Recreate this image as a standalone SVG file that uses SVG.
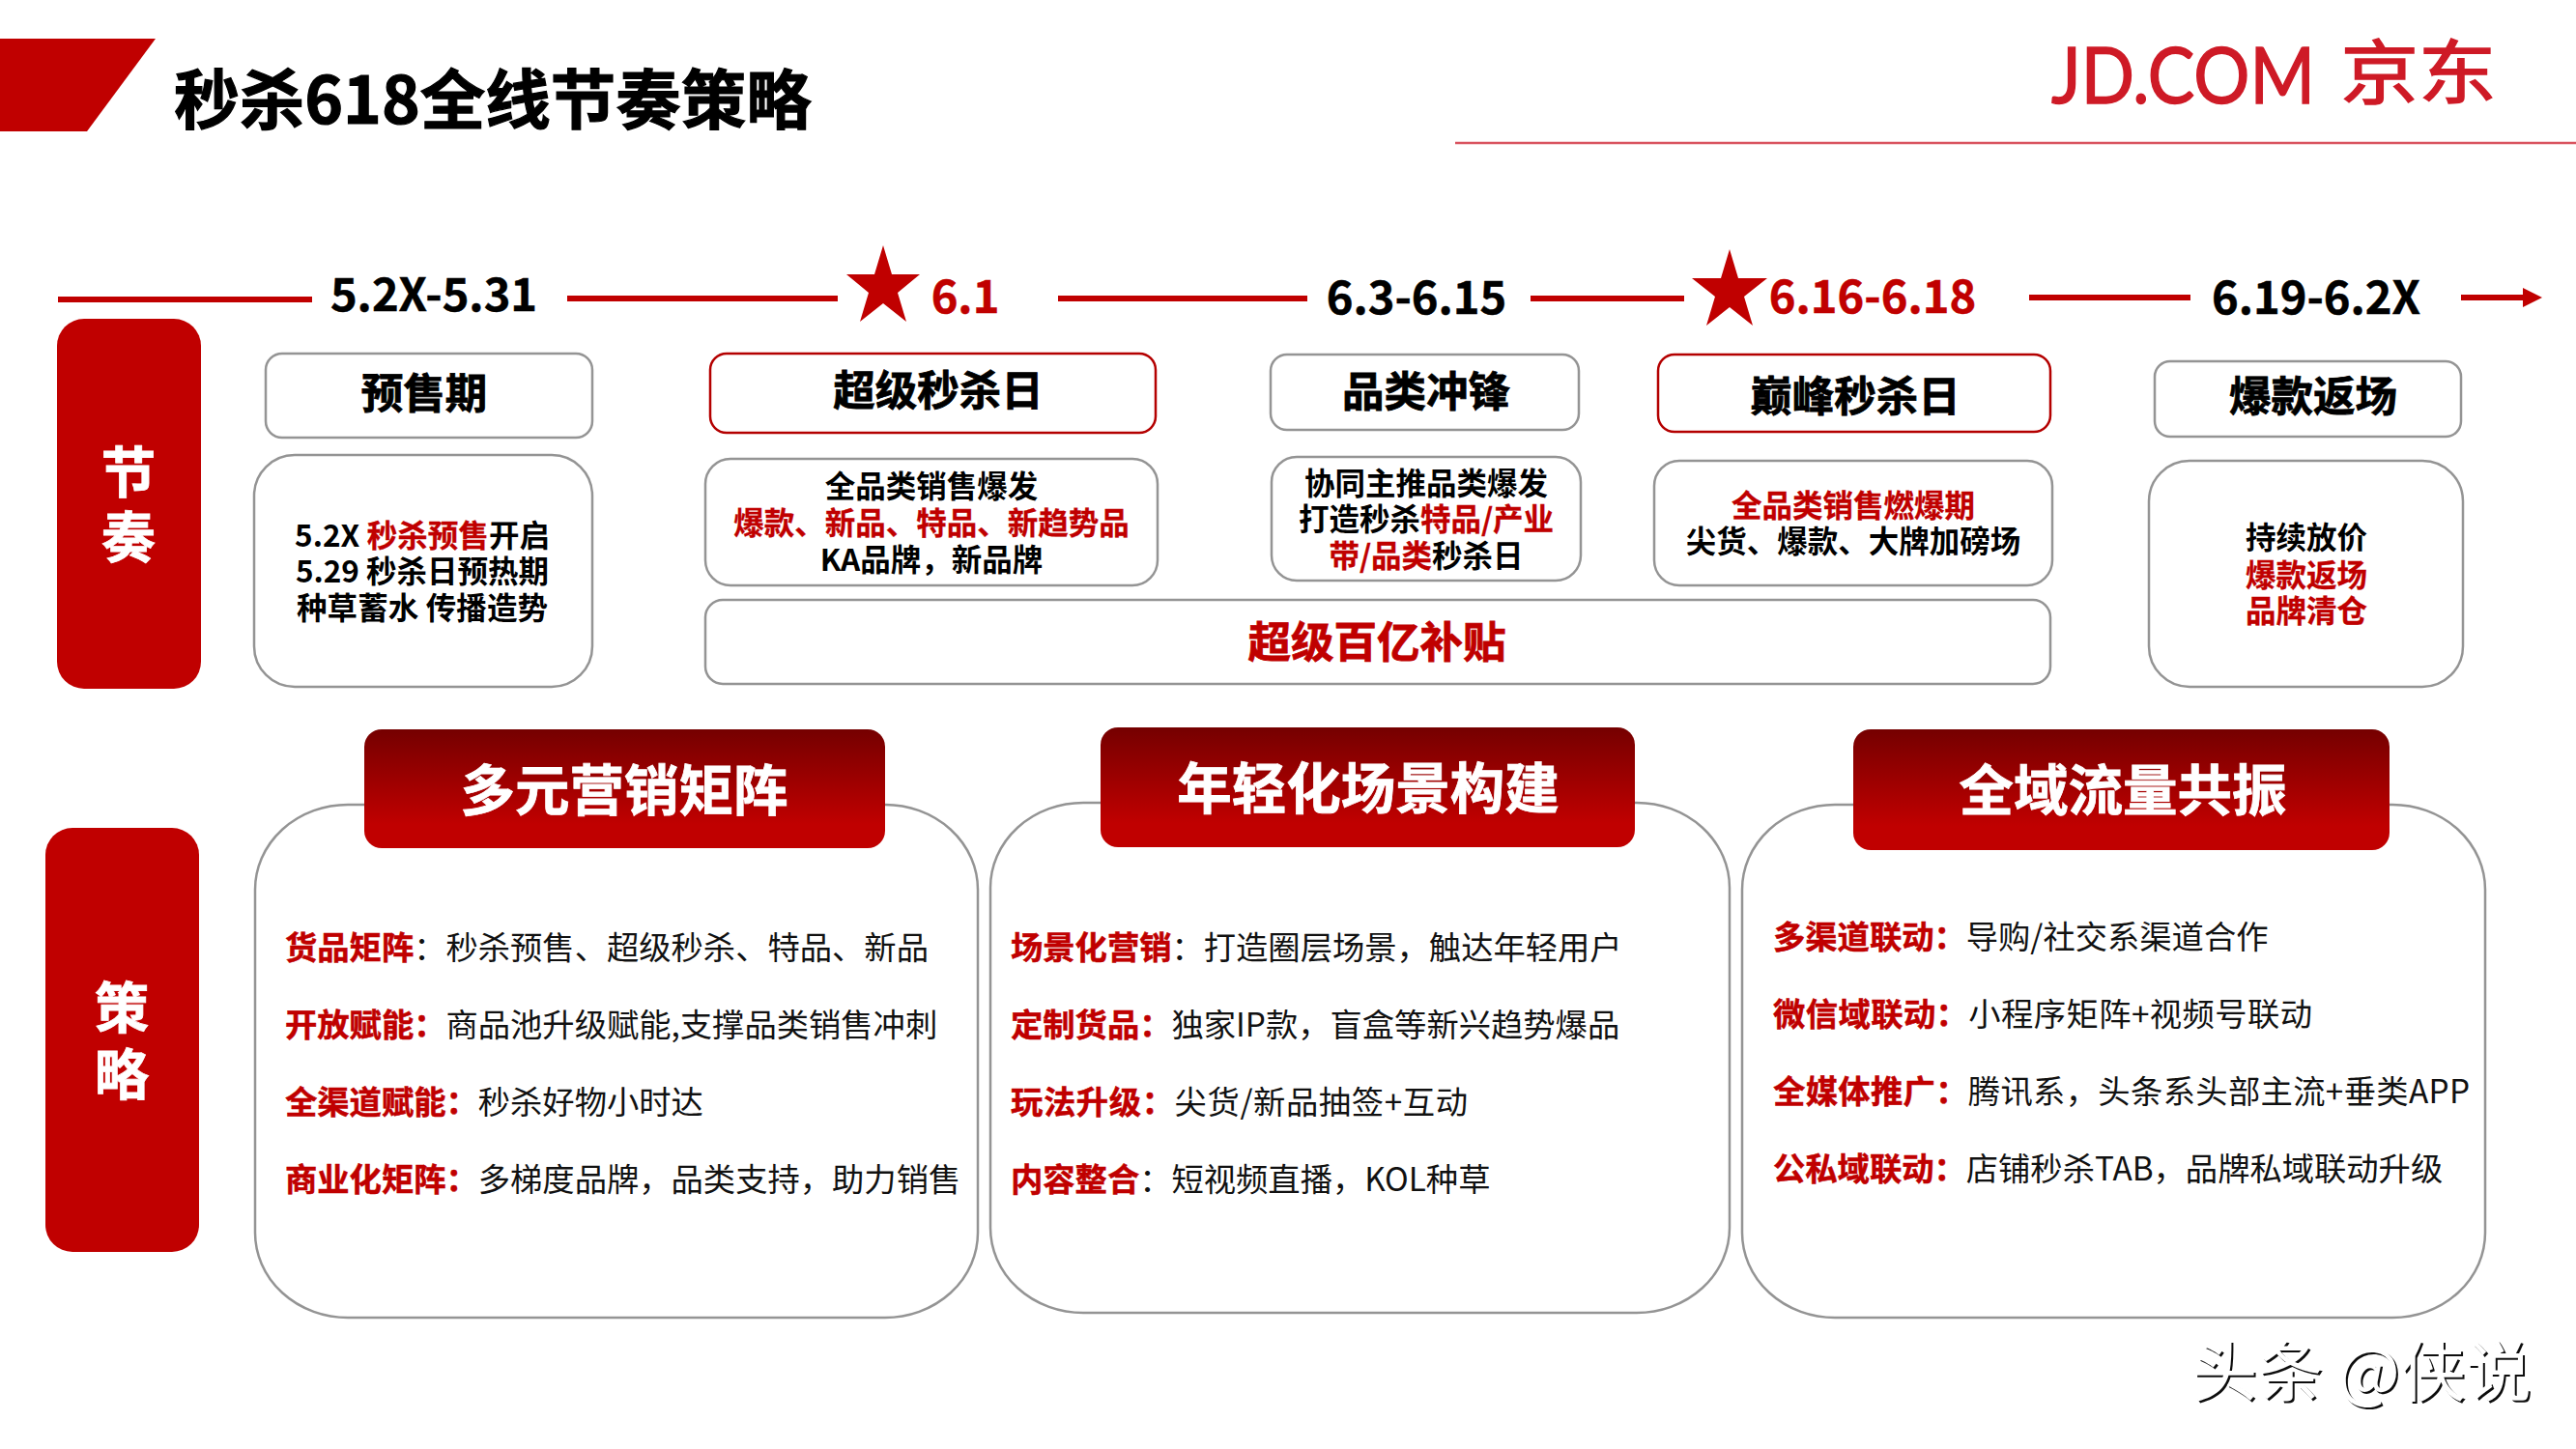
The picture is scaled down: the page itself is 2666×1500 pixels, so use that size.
<svg xmlns="http://www.w3.org/2000/svg" width="2666" height="1500" viewBox="0 0 2666 1500">
<style>
text{font-family:"Noto Sans CJK SC","Noto Sans",sans-serif;text-anchor:middle;fill:#000}
.r{fill:#c00000;stroke:#c00000;stroke-width:.3}
.b{font-weight:700;stroke:#000;stroke-width:.8}
.b.r{stroke:#c00000}
.w{fill:#fff;font-weight:700;stroke:#fff;stroke-width:.8}
.g{fill:#fff;stroke:#949494;stroke-width:2.5}
.rb{fill:#fff;stroke:#b40000;stroke-width:2.5}
.l{stroke:#c00000;stroke-width:6;fill:none}
.d{font-size:47px;font-weight:700;stroke-width:.5}
.h{font-size:43.5px;font-weight:700;stroke:#000;stroke-width:.8}
.s{font-size:31.5px;font-weight:700}
.t{font-size:56.5px}
.p{font-size:33.3px;text-anchor:start;fill:#111}
.p tspan.k{fill:#c00000;font-weight:700;stroke:#c00000;stroke-width:.5}
.big{fill:#fff;stroke:#949494;stroke-width:2.5}
.logo{fill:#ce1a26;stroke:#ce1a26;stroke-width:1.5}
</style>
<defs><linearGradient id="hg" x1="0" y1="0" x2="0" y2="1"><stop offset="0" stop-color="#750000"/><stop offset="0.8" stop-color="#c00000"/></linearGradient>
<filter id="emboss" x="-5%" y="-10%" width="110%" height="120%"><feOffset in="SourceAlpha" dx="-2" dy="-2" result="o"/><feComposite in="SourceGraphic" in2="o" operator="out"/></filter></defs>
<rect width="2666" height="1500" fill="#fff"/>
<g id="header">
<polygon points="0,40 161,40 90,136 0,136" fill="#c00000"/>
<text x="510" y="128" class="b" style="font-size:67.5px;stroke-width:1.2">秒杀618全线节奏策略</text>
<text x="2123" y="107" textLength="273" lengthAdjust="spacingAndGlyphs" class="logo" style="font-size:82px;text-anchor:start;font-family:Lato,'Noto Sans',sans-serif">JD.COM</text>
<text x="2503" y="101" textLength="161" lengthAdjust="spacingAndGlyphs" class="logo" style="font-size:72px">京东</text>
<line x1="1506" y1="148" x2="2666" y2="148" stroke="#d9535f" stroke-width="2.5"/>
</g>
<g id="connectors">
<line class="l" x1="60" y1="310" x2="323" y2="310"/>
<line class="l" x1="587" y1="309" x2="867" y2="309"/>
<line class="l" x1="1095" y1="309" x2="1353" y2="309"/>
<line class="l" x1="1584" y1="309" x2="1743" y2="309"/>
<line class="l" x1="2100" y1="308" x2="2267" y2="308"/>
<line class="l" x1="2547" y1="308" x2="2615" y2="308"/>
<polygon points="2611,298 2631,308 2611,318" fill="#c00000"/>
</g>
<g id="timeline">
<text x="449" y="322" class="d b">5.2X-5.31</text>
<polygon fill="#c00000" points="914,254 923,284 952,284 929,303 938,333 914,314 890,333 899,303 876,284 905,284"/>
<text x="999" y="324" class="d b r">6.1</text>
<text x="1466" y="325" class="d b">6.3-6.15</text>
<polygon fill="#c00000" points="1790,258 1799,288 1829,288 1805,307 1814,337 1790,318 1766,337 1775,307 1751,288 1781,288"/>
<text x="1938" y="324" class="d b r">6.16-6.18</text>
<text x="2397" y="325" class="d b">6.19-6.2X</text>
</g>
<g id="side-jiezou"><rect x="59" y="330" width="149" height="383" rx="28" fill="#c00000"/><text x="133" y="510" class="w t">节</text><text x="133" y="577" class="w t">奏</text></g>
<g id="side-celue"><rect x="47" y="857" width="159" height="439" rx="28" fill="#c00000"/><text x="126" y="1064" class="w t">策</text><text x="126" y="1133" class="w t">略</text></g>
<g id="n1"><rect class="g" x="275" y="366" width="338" height="87" rx="17"/><text x="439" y="423" class="h">预售期</text></g>
<g id="n2"><rect class="rb" x="735" y="366" width="461" height="82" rx="17"/><text x="971" y="420" class="h">超级秒杀日</text></g>
<g id="n3"><rect class="g" x="1315" y="367" width="319" height="78" rx="17"/><text x="1476" y="421" class="h">品类冲锋</text></g>
<g id="n4"><rect class="rb" x="1716" y="367" width="406" height="80" rx="17"/><text x="1920" y="426" class="h">巅峰秒杀日</text></g>
<g id="n5"><rect class="g" x="2230" y="374" width="317" height="78" rx="16"/><text x="2394" y="426" class="h">爆款返场</text></g>
<g id="d1"><rect class="g" x="263" y="471" width="350" height="240" rx="42"/>
<text x="437" y="566" class="s" textLength="264">5.2X <tspan class="r">秒杀预售</tspan>开启</text>
<text x="437" y="603" class="s" textLength="262">5.29 秒杀日预热期</text>
<text x="437" y="641" class="s" textLength="260">种草蓄水 传播造势</text></g>
<g id="d2"><rect class="g" x="730" y="475" width="468" height="131" rx="26"/>
<text x="964" y="515" class="s">全品类销售爆发</text>
<text x="964" y="553" class="s r">爆款、新品、特品、新趋势品</text>
<text x="964" y="591" class="s">KA品牌，新品牌</text></g>
<g id="d3"><rect class="g" x="1316" y="473" width="320" height="128" rx="26"/>
<text x="1476" y="512" class="s">协同主推品类爆发</text>
<text x="1476" y="549" class="s">打造秒杀<tspan class="r">特品/产业</tspan></text>
<text x="1476" y="587" class="s"><tspan class="r">带/品类</tspan>秒杀日</text></g>
<g id="d4"><rect class="g" x="1712" y="477" width="412" height="129" rx="26"/>
<text x="1918" y="535" class="s r">全品类销售燃爆期</text>
<text x="1918" y="572" class="s">尖货、爆款、大牌加磅场</text></g>
<g id="d5"><rect class="g" x="2224" y="477" width="325" height="234" rx="42"/>
<text x="2387" y="568" class="s">持续放价</text>
<text x="2387" y="607" class="s r">爆款返场</text>
<text x="2387" y="644" class="s r">品牌清仓</text></g>
<g id="subsidy"><rect class="g" x="730" y="621" width="1392" height="87" rx="18"/><text x="1425" y="681" class="b r" style="font-size:44.5px">超级百亿补贴</text></g>
<g id="s1"><rect class="big" x="264" y="833" width="748" height="531" rx="96" ry="88"/>
<rect x="377" y="755" width="539" height="123" rx="18" fill="url(#hg)"/><text x="646" y="839" class="w t">多元营销矩阵</text>
<text x="295" y="993" class="p"><tspan class="k">货品矩阵</tspan>：秒杀预售、超级秒杀、特品、新品</text>
<text x="295" y="1073" class="p"><tspan class="k">开放赋能：</tspan>商品池升级赋能,支撑品类销售冲刺</text>
<text x="295" y="1153" class="p"><tspan class="k">全渠道赋能：</tspan>秒杀好物小时达</text>
<text x="295" y="1233" class="p"><tspan class="k">商业化矩阵：</tspan>多梯度品牌，品类支持，助力销售</text></g>
<g id="s2"><rect class="big" x="1025" y="831" width="765" height="528" rx="96" ry="88"/>
<rect x="1139" y="753" width="553" height="124" rx="18" fill="url(#hg)"/><text x="1416" y="837" class="w t">年轻化场景构建</text>
<text x="1046" y="993" class="p"><tspan class="k">场景化营销</tspan>：打造圈层场景，触达年轻用户</text>
<text x="1046" y="1073" class="p"><tspan class="k">定制货品：</tspan>独家IP款，盲盒等新兴趋势爆品</text>
<text x="1046" y="1153" class="p" textLength="473"><tspan class="k">玩法升级：</tspan>尖货/新品抽签+互动</text>
<text x="1046" y="1233" class="p"><tspan class="k">内容整合</tspan>：短视频直播，KOL种草</text></g>
<g id="s3"><rect class="big" x="1803" y="833" width="769" height="531" rx="96" ry="88"/>
<rect x="1918" y="755" width="555" height="125" rx="18" fill="url(#hg)"/><text x="2197" y="839" class="w t">全域流量共振</text>
<text x="1835" y="982" class="p"><tspan class="k">多渠道联动：</tspan>导购/社交系渠道合作</text>
<text x="1835" y="1062" class="p" textLength="558"><tspan class="k">微信域联动：</tspan>小程序矩阵+视频号联动</text>
<text x="1835" y="1142" class="p" textLength="721"><tspan class="k">全媒体推广：</tspan>腾讯系，头条系头部主流+垂类APP</text>
<text x="1835" y="1222" class="p"><tspan class="k">公私域联动：</tspan>店铺秒杀TAB，品牌私域联动升级</text></g>
<g id="watermark"><text x="2446" y="1447" filter="url(#emboss)" style="font-size:68px;fill:#111">头条 @侠说</text></g>
</svg>
